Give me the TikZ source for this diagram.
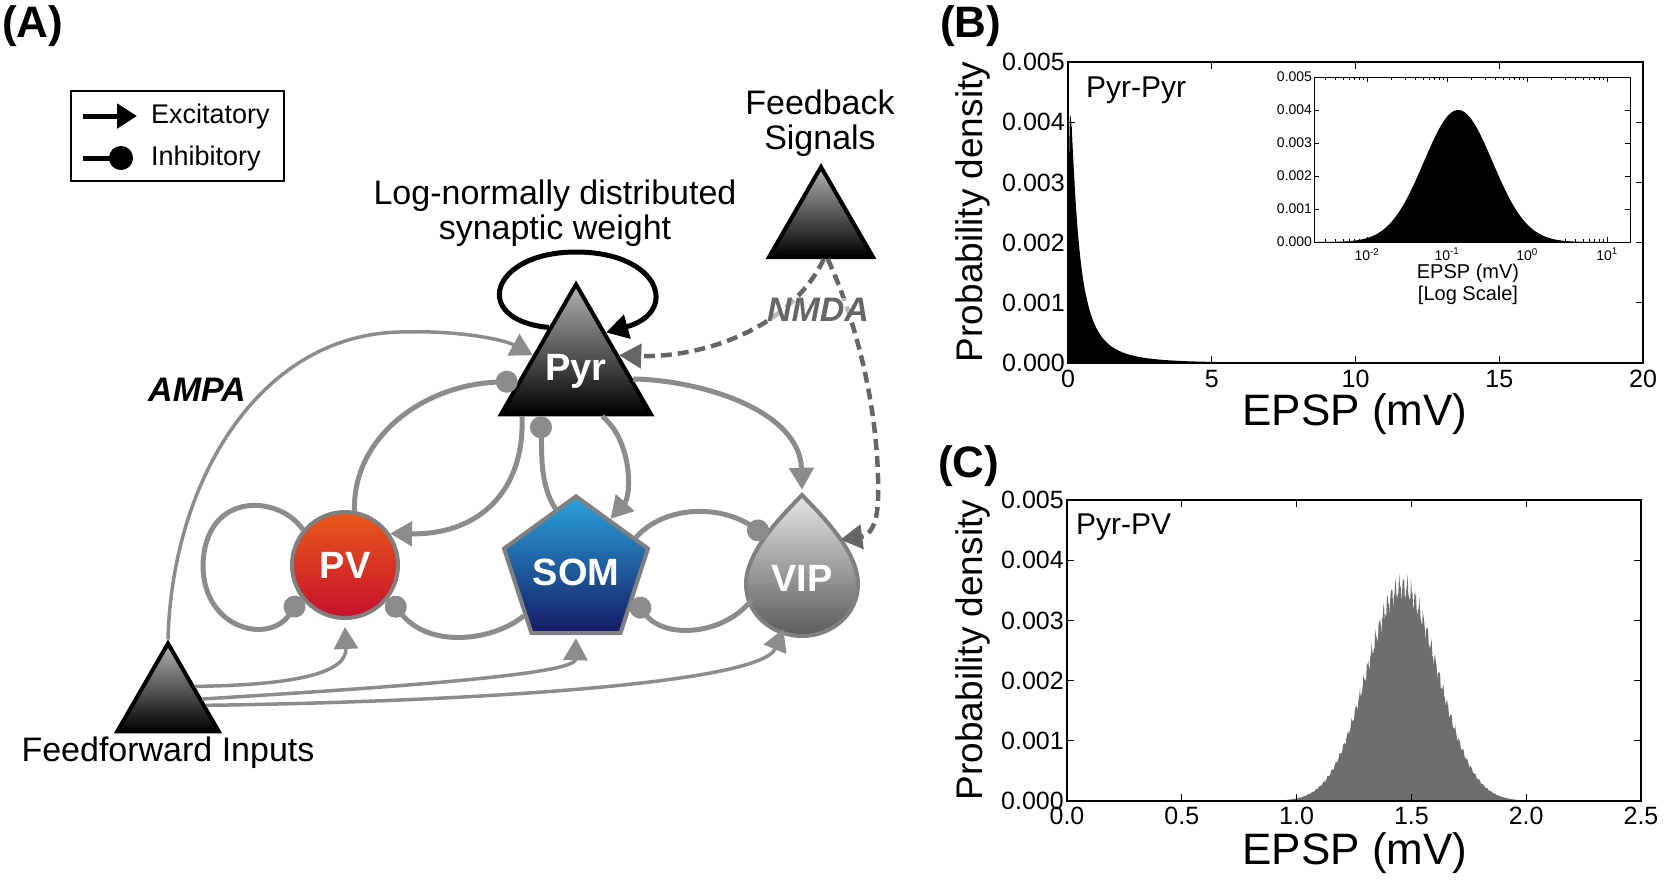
\documentclass[tikz,border=0pt]{standalone}
\usepackage{fontspec}
\setmainfont{Liberation Sans}
\usepackage{xcolor}
\usetikzlibrary{arrows.meta, shapes.geometric, shadings, positioning}

\definecolor{conn}{HTML}{8C8C8C}
\definecolor{fbgray}{HTML}{666666}
\definecolor{cellrim}{HTML}{808080}
\definecolor{pvtop}{HTML}{E85A1A}
\definecolor{pvbot}{HTML}{C5102C}
\definecolor{somtop}{HTML}{2BA3DD}
\definecolor{sombot}{HTML}{141B62}
\definecolor{viptop}{HTML}{E6E6E6}
\definecolor{vipbot}{HTML}{5A5A5A}
\definecolor{histgray}{HTML}{6E6E6E}

\tikzset{
  cellfont/.style={text=white, font=\fontsize{38}{40}\selectfont\bfseries},
  cell/.style={regular polygon, regular polygon sides=3, inner sep=0pt, draw=black, line width=4pt, top color=black!30, bottom color=black, cellfont},
  pvcell/.style={circle, minimum size=106pt, inner sep=0pt, draw=cellrim, line width=4pt, top color=pvtop, bottom color=pvbot, cellfont},
  somcell/.style={regular polygon, regular polygon sides=5, minimum size=138pt, inner sep=0pt, draw=cellrim, line width=4pt, top color=somtop, bottom color=sombot, cellfont},
  vipcell/.style={circle, minimum size=108pt, inner sep=0pt, cellfont},
  exc/.style={draw=conn, line width=5pt, -{Triangle[length=22pt,width=24pt]}},
  inh/.style={draw=conn, line width=5pt, -{Circle[length=22pt,width=22pt]}},
  fbk/.style={draw=fbgray, line width=4.5pt, dash pattern=on 11pt off 6pt, -{Triangle[length=22pt,width=24pt]}},
  loopy/.style={draw=black, line width=5pt, -{Triangle[length=22pt,width=24pt]}},
  lbl/.style={inner sep=0pt, font=\fontsize{34}{35}\selectfont},
  legtxt/.style={inner sep=0pt, font=\fontsize{27}{30}\selectfont},
  panel/.style={inner sep=0pt, font=\fontsize{44}{48}\selectfont\bfseries},
  ticklbl/.style={inner sep=0pt, font=\fontsize{25}{28}\selectfont},
  smalllbl/.style={inner sep=0pt, font=\fontsize{14}{16}\selectfont},
  axlbl/.style={inner sep=0pt, font=\fontsize{44}{48}\selectfont},
  ylbl/.style={inner sep=0pt, rotate=90, font=\fontsize{37}{40}\selectfont},
  plotname/.style={inner sep=0pt, anchor=west, font=\fontsize{30}{32}\selectfont}
}

\begin{document}
\begin{tikzpicture}[x=1pt, y=-1pt]
    \useasboundingbox (0,0) rectangle (1666,879);

    % panel labels
    \node[panel, anchor=west] (labA) at (2,26) {(A)};
    \node[panel, anchor=west] (labB) at (940,26) {(B)};
    \node[panel, anchor=west] (labC) at (938,466) {(C)};

    % legend
    \draw[line width=2pt] (71,91) rectangle (284,181);
    \node[legtxt, anchor=base west] (excl) at (151,123) {Excitatory};
    \node[legtxt, anchor=base west] (inhl) at (151,165) {Inhibitory};
    \draw[line width=5pt, -{Triangle[length=20pt,width=24pt]}] ([xshift=-68pt]excl.west) -- ([xshift=-14pt]excl.west);
    \draw[line width=5pt, -{Circle[length=24pt,width=24pt]}] ([xshift=-68pt]inhl.west) -- ([xshift=-18pt]inhl.west);

    % cells
    \node[cell, minimum size=156pt] (pyr) at (576,371) {Pyr};
    \node[cell, minimum size=120pt] (fb) at (821,227) {};
    \node[cell, minimum size=117pt] (ff) at (168,702) {};
    \node[pvcell] (pv) at (345,565) {PV};
    \node[somcell] (som) at (576,572) {SOM};
    \shadedraw[top color=viptop, bottom color=vipbot, draw=cellrim, line width=4pt]
        (802,495) .. controls (785,513) and (746,550) .. (746,584)
        .. controls (746,615) and (773,636) .. (802,636)
        .. controls (831,636) and (858,615) .. (858,584)
        .. controls (858,550) and (819,513) .. cycle;
    \node[vipcell] (vip) at (802,578) {VIP};

    % texts
    \node[lbl, align=center] (fbtxt) at (820,123) {Feedback\\Signals};
    \node[lbl, align=center] (lntxt) at (555,213) {Log-normally distributed\\synaptic weight};
    \node[lbl] (fftxt) at (168,753) {Feedforward Inputs};
    \node[lbl, font=\fontsize{34}{35}\selectfont\bfseries\itshape] (ampa) at (197,390) {AMPA};

    % feedforward drive
    \draw[exc, line width=3.5pt] (ff.corner 1) .. controls (172,480) and (260,335) .. (400,332)
        .. controls (460,330) and (505,340) .. (pyr.160);
    \draw[exc, line width=3.5pt] (ff.30) .. controls (300,685) and (347,672) .. ([yshift=-7pt]pv.south);
    \draw[exc, line width=3.5pt] (ff.5) .. controls (380,688) and (575,675) .. ([yshift=-3pt]som.south);
    \draw[exc, line width=3.5pt] (ff.355) .. controls (450,702) and (760,685) .. (vip.250);

    % Pyr outputs
    \draw[exc] (pyr.220) .. controls (525,490) and (480,535) .. (pv.35);
    \draw[exc] (pyr.300) .. controls (632,440) and (632,495) .. (som.57);
    \draw[exc] (pyr.352) .. controls (700,380) and (800,410) .. ([yshift=34pt]vip.north);
    \draw[loopy] (pyr.122) .. controls (470,320) and (490,252) .. (576,252)
        .. controls (660,252) and (680,312) .. (pyr.52);

    % inhibition
    \draw[inh] (pv.80) .. controls (352,440) and (420,385) .. (pyr.190);
    \draw[inh] (som.108) .. controls (540,485) and (542,455) .. (pyr.232);
    \draw[inh] (pv.140) .. controls (280,495) and (205,490) .. (203,565)
        .. controls (203,630) and (270,645) .. (pv.216);
    \draw[inh] (som.220) .. controls (495,640) and (430,650) .. (pv.323);
    \draw[inh] (som.30) .. controls (665,505) and (720,505) .. (vip.130);
    \draw[inh] (vip.203) .. controls (725,635) and (665,640) .. (som.335);

    % feedback
    \draw[fbk] (fb.275) .. controls (790,330) and (700,358) .. (pyr.20);
    \draw[fbk] (fb.282) .. controls (860,330) and (880,420) .. (878,500)
        .. controls (877,528) and (868,536) .. (vip.45);
    \node[lbl, text=fbgray, fill=white, fill opacity=0.55, text opacity=1, font=\fontsize{34}{35}\selectfont\bfseries\itshape] (nmda) at (818,310) {NMDA};

    % (B) Pyr-Pyr histogram
    \begin{scope}[shift={(1068,363)}, x=28.75pt, y=60.2pt]
        \fill[black] (0.01,0) -- plot[domain=0.01:0.6, samples=120] (\x,{0.75*exp(-(ln(\x)+0.93)*(ln(\x)+0.93)/3.06)/\x})
            -- plot[domain=0.6:20, samples=150] (\x,{0.75*exp(-(ln(\x)+0.93)*(ln(\x)+0.93)/3.06)/\x}) -- (20,0) -- cycle;
        \draw[line width=1.5pt] (0,0) rectangle (20,5);
        \foreach \v in {0,5,...,20} {
            \draw[line width=1pt] (\v,0) -- ++(0pt,7pt);
            \draw[line width=1pt] (\v,5) -- ++(0pt,-7pt);
            \node[ticklbl, anchor=north] at ([yshift=-7pt]\v,0) {\v};
        }
        \foreach \k in {0,...,5} {
            \draw[line width=1pt] (0,\k) -- ++(7pt,0pt);
            \draw[line width=1pt] (20,\k) -- ++(-7pt,0pt);
            \node[ticklbl, anchor=east] at ([xshift=-3pt]0,\k) {0.00\k};
        }
    \end{scope}
    \node[plotname] (pyrpyr) at (1086,90) {Pyr-Pyr};
    \node[ylbl] (ylabB) at (973,212) {Probability density};
    \node[axlbl] (xlabB) at (1355,414) {EPSP (mV)};

    % inset, log scale
    \fill[white] (1314,77) rectangle (1630,242);
    \begin{scope}[shift={(1527,242)}, x=80pt, y=33pt]
        \fill[black] (-2.66,0) -- plot[domain=-2.66:1.29, samples=160] (\x,{4.0*exp(-(\x+0.86)*(\x+0.86)/0.37)}) -- (1.29,0) -- cycle;
        \draw[line width=1pt] (-2.66,0) rectangle (1.29,5);
        \begin{scope}
            \clip (-2.66,0) rectangle (1.29,5);
            \foreach \d in {-3,...,1} {
                \draw[line width=0.8pt] (\d,0) -- ++(0pt,5pt);
                \draw[line width=0.8pt] (\d,5) -- ++(0pt,-5pt);
                \foreach \m in {2,...,9} {
                    \draw[line width=0.6pt] ({\d+log10(\m)},0) -- ++(0pt,3pt);
                    \draw[line width=0.6pt] ({\d+log10(\m)},5) -- ++(0pt,-3pt);
                }
            }
        \end{scope}
        \foreach \d in {-2,-1,0,1} {
            \node[smalllbl, anchor=north] at ([yshift=-6pt]\d,0) {10\textsuperscript{\d}};
        }
        \foreach \k in {0,...,5} {
            \draw[line width=0.8pt] (-2.66,\k) -- ++(5pt,0pt);
            \draw[line width=0.8pt] (1.29,\k) -- ++(-5pt,0pt);
            \node[smalllbl, anchor=east] at ([xshift=-2pt]-2.66,\k) {0.00\k};
        }
    \end{scope}
    \node[inner sep=0pt, font=\fontsize{20}{22}\selectfont, align=center] (insetlab) at (1468,284) {EPSP (mV)\\{[}Log Scale{]}};

    % (C) Pyr-PV histogram
    \begin{scope}[shift={(1067,801)}, x=229.6pt, y=60.2pt]
        \fill[histgray] (0.75,0) -- plot[domain=0.75:2.25, samples=500]
            (\x,{3.55*exp(-(\x-1.46)*(\x-1.46)/0.048)*(1+0.05*sin(mod(\x*1150,20)*18)+0.03*sin(mod(\x*2700,20)*18))}) -- (2.25,0) -- cycle;
        \draw[line width=1.5pt] (0,0) rectangle (2.5,5);
        \foreach \v/\t in {0/0.0, 0.5/0.5, 1/1.0, 1.5/1.5, 2/2.0, 2.5/2.5} {
            \draw[line width=1pt] (\v,0) -- ++(0pt,7pt);
            \draw[line width=1pt] (\v,5) -- ++(0pt,-7pt);
            \node[ticklbl, anchor=north] at ([yshift=-6pt]\v,0) {\t};
        }
        \foreach \k in {0,...,5} {
            \draw[line width=1pt] (0,\k) -- ++(7pt,0pt);
            \draw[line width=1pt] (2.5,\k) -- ++(-7pt,0pt);
            \node[ticklbl, anchor=east] at ([xshift=-3pt]0,\k) {0.00\k};
        }
    \end{scope}
    \node[plotname] (pyrpv) at (1076,527) {Pyr-PV};
    \node[ylbl] (ylabC) at (973,650) {Probability density};
    \node[axlbl] (xlabC) at (1355,853) {EPSP (mV)};
\end{tikzpicture}
\end{document}
